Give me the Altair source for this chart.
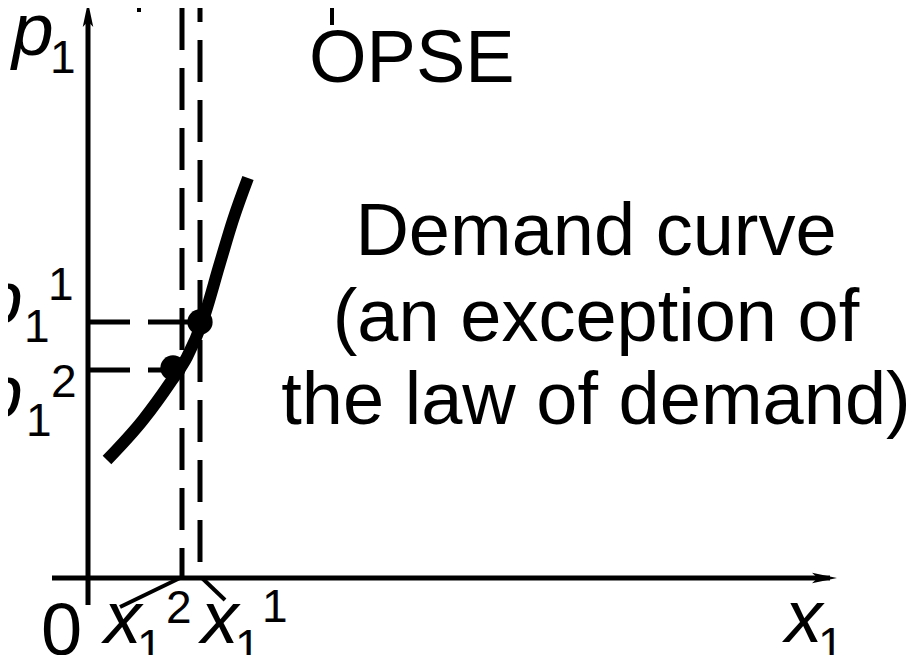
import altair as alt
import pandas as pd

# ---------------- data (economic units; origin at the axes' crossing) ----------------
curve_q = [0.95, 2.75, 4.1, 4.95, 5.75, 6.6, 7.25, 8.0]
curve_p = [5.9, 7.9, 9.75, 11.05, 12.9, 15.75, 17.9, 20.0]

eq_labels = ["1", "2"]
eq_q = [5.6, 4.25]
eq_p = [12.8, 10.5]

x_levels = [5.6, 4.7]        # x1^1, x1^2 (vertical dashed lines)
p_levels = [12.8, 10.4]      # p1^1, p1^2 (horizontal dashed lines)
p_ends = [5.75, 4.3]

axis_x = [-1.8, 37.1]
axis_y = [-1.35, 28.1]
arrow_x = [36.825, 0.0]
arrow_y = [0.0, 28.175]

frag_x = [2.55, 8.25, 12.2, 15.45]
frag_top = [28.9, 28.9, 28.9, 28.9]
frag_bot = [28.3, 28.5, 27.65, 28.5]

lead_x = [4.6, 5.7]
lead_x2 = [1.6, 6.85]
lead_y2 = [-1.45, -1.1]

# big italic letters
ital_text = ["p", "p", "p", "x", "x", "x"]
ital_x = [-3.8, -5.35, -5.35, 0.8, 5.65, 34.85]
ital_y = [26.15, 12.75, 8.05, -3.25, -3.25, -3.2]

# big upright text
norm_text = ["OPSE", "0"]
norm_x = [11.05, -2.35]
norm_y = [24.8, -3.85]

block_lines = ["Demand curve", "(an exception of", "the law of demand)"]
block_x = [25.4, 25.4, 25.4]
block_y = [16.15, 11.85, 7.7]

# sub / superscripts
small_text = ["1", "1", "1", "1", "2", "1", "2", "1", "1", "1"]
small_x = [-1.9, -3.2, -2.0, -3.1, -1.85, 2.45, 3.9, 7.35, 8.7, 36.5]
small_y = [25.25, 11.8, 13.9, 7.1, 9.05, -4.2, -2.25, -4.2, -2.2, -4.1]

# ---------------- layout ----------------
W, H = 907, 647
PX = 20.0
xs = alt.Scale(domain=[-4.0, -4.0 + W / PX], nice=False, zero=False)
ys = alt.Scale(domain=[28.5 - H / PX, 28.5], nice=False, zero=False)
FONT = "Liberation Sans"


def X(f):
    return alt.X(f, type="quantitative", scale=xs, axis=None)


def X2(f):
    return alt.X2(f)


def Y(f):
    return alt.Y(f, type="quantitative", scale=ys, axis=None)


curve_df = pd.DataFrame({"q": curve_q, "p": curve_p, "o": list(range(len(curve_q)))})
eq_df = pd.DataFrame({"lab": eq_labels, "q": eq_q, "p": eq_p})

axis_df_x = pd.DataFrame({"x": [axis_x[0]], "x2": [axis_x[1]], "y": [0.0]})
axis_df_y = pd.DataFrame({"x": [0.0], "y": [axis_y[0]], "y2": [axis_y[1]]})
arr_r = pd.DataFrame({"x": [arrow_x[0]], "y": [arrow_y[0]]})
arr_u = pd.DataFrame({"x": [arrow_x[1]], "y": [arrow_y[1]]})

vdash1 = pd.DataFrame({"x": [x_levels[0]], "y": [28.5], "y2": [0.0]})
vdash2 = pd.DataFrame({"x": [x_levels[1]], "y": [28.5], "y2": [0.0]})
hdash = pd.DataFrame({"x": [0.0, 0.0], "x2": p_ends, "y": p_levels})

frag_df = pd.DataFrame({"x": frag_x, "y": frag_top, "y2": frag_bot})
lead_df = pd.DataFrame({"x": lead_x, "x2": lead_x2, "y": [0.0, 0.0], "y2": lead_y2})

ital_df = pd.DataFrame({"t": ital_text, "x": ital_x, "y": ital_y})
norm_df = pd.DataFrame({"t": norm_text, "x": norm_x, "y": norm_y})
block_df = pd.DataFrame({"t": block_lines, "x": block_x, "y": block_y})
small_df = pd.DataFrame({"t": small_text, "x": small_x, "y": small_y})

BLACK = "#000000"

l_axis_x = alt.Chart(axis_df_x).mark_rule(color=BLACK, strokeWidth=5).encode(
    x=X("x"), x2=X2("x2"), y=Y("y"))
l_axis_y = alt.Chart(axis_df_y).mark_rule(color=BLACK, strokeWidth=5).encode(
    x=X("x"), y=Y("y"), y2=alt.Y2("y2"))

ARROW_R = "M1,0 L-1,-0.42 L-0.55,0 L-1,0.42 Z"
ARROW_U = "M0,-1 L0.42,1 L0,0.55 L-0.42,1 Z"
l_arr_r = alt.Chart(arr_r).mark_point(shape=ARROW_R, filled=True, size=625, color=BLACK, opacity=1).encode(
    x=X("x"), y=Y("y"))
l_arr_u = alt.Chart(arr_u).mark_point(shape=ARROW_U, filled=True, size=625, color=BLACK, opacity=1).encode(
    x=X("x"), y=Y("y"))

l_vd1 = alt.Chart(vdash1).mark_rule(color=BLACK, strokeWidth=5, strokeDash=[42, 18], strokeDashOffset=28).encode(
    x=X("x"), y=Y("y"), y2=alt.Y2("y2"))
l_vd2 = alt.Chart(vdash2).mark_rule(color=BLACK, strokeWidth=5, strokeDash=[42, 18], strokeDashOffset=0).encode(
    x=X("x"), y=Y("y"), y2=alt.Y2("y2"))
l_hd = alt.Chart(hdash).mark_rule(color=BLACK, strokeWidth=5, strokeDash=[42, 18]).encode(
    x=X("x"), x2=X2("x2"), y=Y("y"))

l_frag = alt.Chart(frag_df).mark_rule(color=BLACK, strokeWidth=4).encode(
    x=X("x"), y=Y("y"), y2=alt.Y2("y2"))
l_lead = alt.Chart(lead_df).mark_rule(color=BLACK, strokeWidth=4).encode(
    x=X("x"), x2=X2("x2"), y=Y("y"), y2=alt.Y2("y2"))

l_curve = alt.Chart(curve_df).mark_line(color=BLACK, strokeWidth=12, interpolate="monotone", strokeCap="butt").encode(
    x=X("q"), y=Y("p"), order="o:Q")
l_eq = alt.Chart(eq_df).mark_point(shape="circle", filled=True, size=640, color=BLACK, opacity=1).encode(
    x=X("q"), y=Y("p"))

l_ital = alt.Chart(ital_df).mark_text(font=FONT, fontSize=75, fontStyle="italic", align="left",
                                      baseline="alphabetic", color=BLACK).encode(
    x=X("x"), y=Y("y"), text="t:N")
l_norm = alt.Chart(norm_df).mark_text(font=FONT, fontSize=74, align="left",
                                      baseline="alphabetic", color=BLACK).encode(
    x=X("x"), y=Y("y"), text="t:N")
l_block = alt.Chart(block_df).mark_text(font=FONT, fontSize=74, align="center",
                                        baseline="alphabetic", color=BLACK).encode(
    x=X("x"), y=Y("y"), text="t:N")
l_small = alt.Chart(small_df).mark_text(font=FONT, fontSize=46, align="left",
                                        baseline="alphabetic", color=BLACK).encode(
    x=X("x"), y=Y("y"), text="t:N")

chart = alt.layer(
    l_vd1, l_vd2, l_hd, l_frag, l_lead, l_axis_x, l_axis_y, l_arr_r, l_arr_u,
    l_curve, l_eq, l_ital, l_norm, l_block, l_small,
).properties(
    width=W, height=H, padding=0, autosize=alt.AutoSizeParams(type="none"), background="white"
).configure_view(stroke=None)

chart.save("out.html", embed_options={"renderer": "svg", "actions": False})
